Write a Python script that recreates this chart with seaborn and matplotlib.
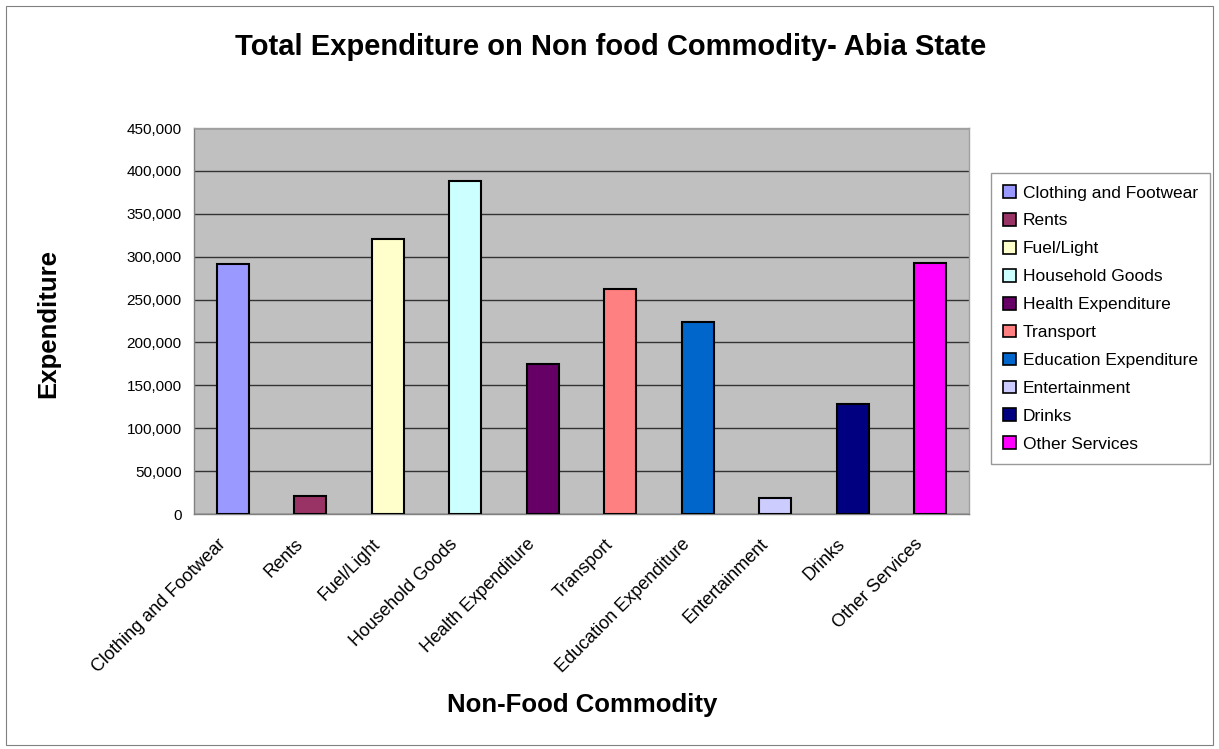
import matplotlib
matplotlib.use("Agg")
import matplotlib.pyplot as plt
import matplotlib.ticker as mticker
from matplotlib.patches import Patch, Rectangle
from matplotlib.transforms import ScaledTranslation
import seaborn as sns
import pandas as pd

categories = [
    "Clothing and Footwear", "Rents", "Fuel/Light", "Household Goods",
    "Health Expenditure", "Transport", "Education Expenditure",
    "Entertainment", "Drinks", "Other Services",
]
expenditure = [291000, 20500, 320500, 388000, 174500, 262500, 223500, 18600, 128000, 293000]
colors = ["#9999FF", "#993366", "#FFFFCC", "#CCFFFF", "#660066",
          "#FF8080", "#0066CC", "#CCCCFF", "#000080", "#FF00FF"]
y_ticks = [0, 50000, 100000, 150000, 200000, 250000, 300000, 350000, 400000, 450000]

sns.set_style("white")
plt.rcParams["font.family"] = ["Liberation Sans", "DejaVu Sans"]
plt.rcParams["text.color"] = "black"
plt.rcParams["xtick.color"] = "black"
plt.rcParams["ytick.color"] = "black"

df = pd.DataFrame({"Commodity": categories, "Expenditure": expenditure})

fig = plt.figure(figsize=(12.19, 7.49), dpi=100)
fig.patches.append(Rectangle((6 / 1219, 4 / 749), 1207 / 1219, 739 / 749,
                             transform=fig.transFigure, fill=False,
                             edgecolor="#808080", linewidth=0.8))
ax = fig.add_axes([194 / 1219, 1 - 514 / 749, (969 - 194) / 1219, (514 - 128) / 749])
ax.set_facecolor("#C0C0C0")

sns.barplot(data=df, x="Commodity", y="Expenditure", hue="Commodity",
            palette=colors, order=categories, hue_order=categories,
            dodge=False, legend=False, width=0.41, saturation=1,
            edgecolor="black", linewidth=1.5, ax=ax, zorder=3)

ax.set_ylim(0, 450000)
ax.set_xlim(-0.5, len(categories) - 0.5)
ax.set_yticks(y_ticks)
ax.yaxis.set_major_formatter(mticker.FuncFormatter(lambda v, p: f"{int(v):,}"))
ax.grid(axis="y", color="#333333", linewidth=1.0, zorder=0)
ax.set_axisbelow(True)

# category labels centred, tick marks on category boundaries
ax.set_xticks(range(len(categories)))
ax.set_xticklabels(categories, rotation=45, ha="right", va="center",
                   rotation_mode="anchor", fontsize=13)
ax.tick_params(axis="x", which="major", length=0, pad=20)
shift = ScaledTranslation(-10 / 100, 0, fig.dpi_scale_trans)
for lbl in ax.get_xticklabels():
    lbl.set_transform(lbl.get_transform() + shift)
ax.set_xticks([i - 0.5 for i in range(len(categories) + 1)], minor=True)
ax.tick_params(axis="x", which="minor", length=6, color="#808080", width=1)
ax.tick_params(axis="y", length=5, color="#808080", width=1, labelsize=11, pad=4)

for side in ["top", "right"]:
    ax.spines[side].set_color("#A0A0A0")
for side in ["left", "bottom"]:
    ax.spines[side].set_color("#808080")
for s in ax.spines.values():
    s.set_linewidth(1.0)

ax.set_xlabel("")
ax.set_ylabel("")
fig.text(48 / 1219, 1 - 323 / 749, "Expenditure", rotation=90, ha="center", va="center",
         fontsize=18.5, fontweight="bold")
fig.text(582 / 1219, 1 - 705 / 749, "Non-Food Commodity", ha="center", va="center",
         fontsize=18.5, fontweight="bold")
fig.text(611 / 1219, 1 - 47 / 749, "Total Expenditure on Non food Commodity- Abia State",
         ha="center", va="center", fontsize=21, fontweight="bold")

handles = [Patch(facecolor=c, edgecolor="black", linewidth=1.2) for c in colors]
leg = fig.legend(handles, categories, loc="upper left",
                 bbox_to_anchor=(991 / 1219, 1 - 173 / 749),
                 fontsize=12.5, frameon=True, fancybox=False,
                 handlelength=0.75, handleheight=0.75, handletextpad=0.4,
                 labelspacing=0.72, borderpad=0.7, borderaxespad=0)
leg.get_frame().set_edgecolor("#808080")
leg.get_frame().set_linewidth(1.0)

fig.savefig("out.png", dpi=100)
